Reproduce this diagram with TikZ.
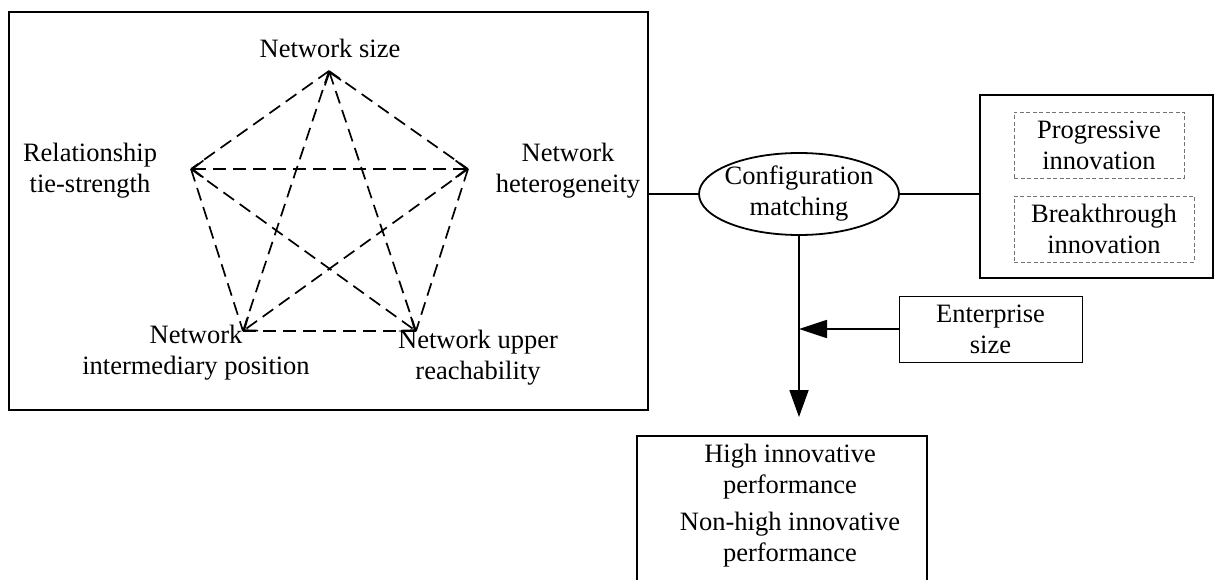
\documentclass[tikz,border=0pt]{standalone}
\usepackage{fontspec}
\setmainfont{Liberation Serif}
\usepackage{tikz}
\usetikzlibrary{positioning,arrows.meta,shapes.geometric,calc}
\tikzset{
  caja/.style={draw=black,line width=1.8pt,inner sep=0pt,align=center},
  cajad/.style={draw=black!55,dash pattern=on 4pt off 2.5pt,line width=0.9pt,inner sep=0pt,align=center},
  flecha/.style={-{Triangle[length=27pt,width=19pt]},line width=1.8pt},
  enlace/.style={dash pattern=on 13pt off 7pt,line width=1.7pt},
  linea/.style={line width=1.8pt},
  etiqueta/.style={align=center},
}

\begin{document}
\begin{tikzpicture}[x=1pt,y=-1pt,font=\fontsize{26.5}{31}\selectfont,
  >={Straight Barb[length=11pt,width=17pt,line width=1.7pt]}]
  \useasboundingbox (0,0) rectangle (1216,580);
  % network box with the five dimensions
  \node[caja,minimum width=639pt,minimum height=398pt] (red) at (328.5,211) {};
  \coordinate (vsup) at (329,71);
  \coordinate (vizq) at (191,169);
  \coordinate (vder) at (468,169);
  \coordinate (vbiz) at (243,331);
  \coordinate (vbde) at (416,331);
  \node[etiqueta] (tam) at (330,48) {Network size};
  \node[etiqueta] (lazo) at (90,171) {Relationship\\tie-strength};
  \node[etiqueta] (het) at (568,171) {Network\\heterogeneity};
  \node[etiqueta] (inter) at (196,353) {Network\\intermediary position};
  \node[etiqueta] (alc) at (478,358) {Network upper\\reachability};
  \draw[enlace,<->] (vizq) -- (vder);
  \draw[enlace] (vsup) -- (vizq);
  \draw[enlace] (vsup) -- (vder);
  \draw[enlace] (vbiz) -- (vbde);
  \draw[enlace] (vizq) -- (vbiz);
  \draw[enlace] (vder) -- (vbde);
  \draw[enlace,->] (vizq) -- (vbde);
  \draw[enlace,->] (vder) -- (vbiz);
  \draw[enlace,->] (vbde) -- (vsup);
  \draw[enlace] (vsup) -- (vbiz);
  % matching and innovation types
  \node[caja,ellipse,inner xsep=-5pt,inner ysep=-2pt,minimum width=200pt,minimum height=82pt] (conf) at (799,194) {Configuration\\matching};
  \node[caja,minimum width=233pt,minimum height=183pt] (innov) at (1096.5,186.5) {};
  \node[cajad,minimum width=170pt,minimum height=66pt] (prog) at (1099,145) {Progressive\\innovation};
  \node[cajad,minimum width=180pt,minimum height=66pt] (brk) at (1104,229) {Breakthrough\\innovation};
  \node[caja,line width=1pt,minimum width=183pt,minimum height=66pt] (emp) at (990.5,329) {Enterprise\\size};
  % outcome
  \node[caja,anchor=north,minimum width=290pt,minimum height=200pt] (perf) at (782,435) {};
  \node[etiqueta] (alto) at (790,472) {High innovative\\performance};
  \node[etiqueta] (noalto) at (790,540) {Non-high innovative\\performance};
  \coordinate (punta) at (conf.south |- 0,417);
  \draw[linea] (conf.west) -- (conf.west -| red.east);
  \draw[linea] (conf.east) -- (conf.east -| innov.west);
  \draw[flecha] (conf.south) -- (punta);
  \draw[flecha,-{Triangle[length=28pt,width=18pt]}] (emp.west) -- (emp.west -| conf.south);
\end{tikzpicture}
\end{document}
